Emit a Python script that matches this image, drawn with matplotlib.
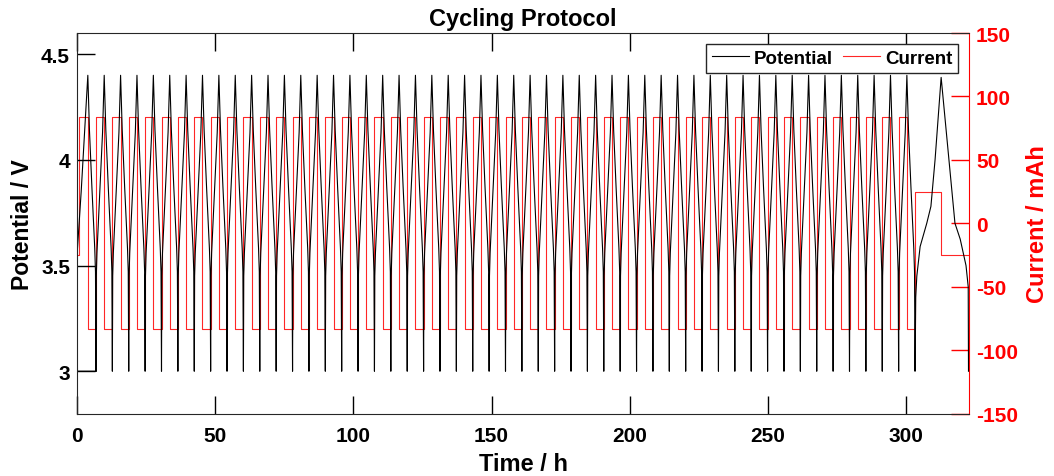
import numpy as np
import matplotlib.pyplot as plt

plt.rcParams['font.family'] = ['Liberation Sans', 'DejaVu Sans']
plt.rcParams['font.weight'] = 'bold'
plt.rcParams['axes.unicode_minus'] = False

# fast cycles
first_peak = 3.9       # h
first_trough = 6.85    # h
period = 5.928         # h per cycle
n_cycles = 51

charge_frac = [0.0, 0.04, 0.12, 0.5, 0.8, 1.0]
charge_v = [3.0, 3.45, 3.56, 3.88, 4.13, 4.4]
discharge_frac = [0.0, 0.2, 0.5, 0.85, 0.94, 1.0]
discharge_v = [4.4, 4.14, 3.87, 3.58, 3.47, 3.0]

# start of the record
init_t = [0.0, 0.15, 6.85]
init_v = [3.45, 3.0, 3.0]
first_charge_t = [0.0, 1.5, 3.9]
first_charge_v = [3.55, 3.85, 4.4]

# slow last cycle
slow_t = [303.25, 303.5, 303.9, 305.1, 307.5, 309.0, 310.5, 312.7,
          317.7, 319.6, 321.7, 322.5, 322.6]
slow_v = [3.0, 3.35, 3.45, 3.59, 3.70, 3.78, 4.0, 4.39,
          3.70, 3.625, 3.5, 3.40, 3.0]

i_rest = -25.0
i_start = 0.8
i_charge = 83.5
i_discharge = -83.0
i_slow_charge = 25.0
i_slow_discharge = -25.0
slow_switch = 312.7
t_end = 322.8


def main():
    peaks = [first_peak + k * period for k in range(n_cycles)]
    troughs = [first_trough + k * period for k in range(n_cycles)]

    # potential trace
    t_pot = list(init_t) + [np.nan] + list(first_charge_t)
    v_pot = list(init_v) + [np.nan] + list(first_charge_v)
    for k in range(n_cycles):
        if k > 0:
            dt = peaks[k] - troughs[k - 1]
            t_pot += [troughs[k - 1] + f * dt for f in charge_frac[1:]]
            v_pot += charge_v[1:]
        dt = troughs[k] - peaks[k]
        t_pot += [peaks[k] + f * dt for f in discharge_frac[1:]]
        v_pot += discharge_v[1:]
    t_pot += slow_t[1:]
    v_pot += slow_v[1:]

    # current trace (step)
    t_cur = [0.0, i_start]
    i_cur = [i_rest, i_charge]
    for k in range(n_cycles):
        t_cur.append(peaks[k])
        i_cur.append(i_discharge)
        t_cur.append(troughs[k])
        i_cur.append(i_charge if k < n_cycles - 1 else i_slow_charge)
    t_cur += [slow_switch, t_end]
    i_cur += [i_slow_discharge, i_slow_discharge]

    fig = plt.figure(figsize=(10.54, 4.77), dpi=100)
    ax1 = fig.add_axes([0.0731, 0.131, 0.8463, 0.7977])
    ax2 = ax1.twinx()

    l1, = ax1.plot(t_pot, v_pot, color='black', lw=0.8, label='Potential')
    l2, = ax2.plot(t_cur, i_cur, color='red', lw=0.8, alpha=0.85,
                   drawstyle='steps-post', label='Current')
    ax1.set_zorder(2)
    ax1.patch.set_visible(False)

    ax1.set_xlim(0, t_end)
    ax1.set_ylim(2.8, 4.6)
    ax2.set_ylim(-150, 150)
    ax1.set_xticks(range(0, 301, 50))
    ax1.set_yticks([3, 3.5, 4, 4.5])
    ax1.set_yticklabels(['3', '3.5', '4', '4.5'])
    ax2.set_yticks(range(-150, 151, 50))

    ax1.tick_params(direction='in', length=13, width=1, labelsize=15,
                    top=True, right=False, colors='black', pad=5)
    ax1.tick_params(axis='x', pad=9)
    ax2.tick_params(direction='in', length=13, width=1, labelsize=15,
                    colors='red', pad=5)
    for lab in ax1.get_xticklabels() + ax1.get_yticklabels() + ax2.get_yticklabels():
        lab.set_fontweight('bold')
    for s in ['left', 'top', 'bottom']:
        ax1.spines[s].set_color('#262626')
        ax2.spines[s].set_visible(False)
    ax1.spines['right'].set_visible(False)
    ax2.spines['right'].set_color('red')

    ax1.set_xlabel('Time / h', fontsize=17, fontweight='bold', labelpad=5)
    ax1.set_ylabel('Potential / V', fontsize=16.5, fontweight='bold', labelpad=5)
    ax2.set_ylabel('Current / mAh', fontsize=17, fontweight='bold', color='red', labelpad=6)
    ax1.set_title('Cycling Protocol', fontsize=17, fontweight='bold', pad=6)

    leg = ax1.legend([l1, l2], ['Potential', 'Current'], loc='upper right', ncol=2,
                     fontsize=13.5, frameon=True, fancybox=False, edgecolor='#262626',
                     framealpha=1, handlelength=2.0, columnspacing=0.5,
                     handletextpad=0.25, borderpad=0.3, borderaxespad=0.6)
    leg.get_frame().set_linewidth(1.0)

    fig.savefig('out.png', dpi=100)


if __name__ == "__main__":
    main()
